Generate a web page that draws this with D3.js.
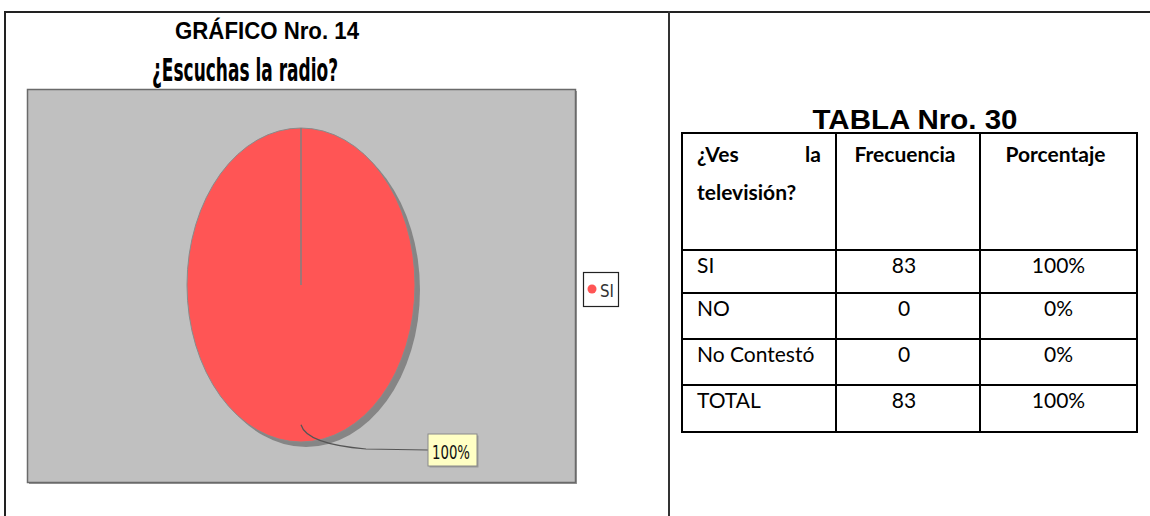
<!DOCTYPE html>
<html>
<head>
<meta charset="utf-8">
<script src="https://cdn.jsdelivr.net/npm/d3@7"></script>
<style>
  body { margin: 0; background: #fff; }
  svg { display: block; }
</style>
</head>
<body>
<svg id="canvas" width="1150" height="516"></svg>
<script>
// pie data
const pieCats = ["SI"];
const pieValues = [100];
const pieLabels = ["100%"];

// table data
const tableHead = ["¿Ves la televisión?", "Frecuencia", "Porcentaje"];
const tableCats = ["SI", "NO", "No Contestó", "TOTAL"];
const tableFreq = [83, 0, 0, 83];
const tablePct = ["100%", "0%", "0%", "100%"];

const colors = ["#ff5555"];

let svg = d3.select("#canvas");

// page frame
svg.append("line").attr("x1", 4).attr("x2", 1150).attr("y1", 12).attr("y2", 12)
    .attr("stroke", "#222").attr("stroke-width", 2);
svg.append("line").attr("x1", 5).attr("x2", 5).attr("y1", 11).attr("y2", 516)
    .attr("stroke", "#222").attr("stroke-width", 2);
svg.append("line").attr("x1", 669).attr("x2", 669).attr("y1", 11).attr("y2", 516)
    .attr("stroke", "#333").attr("stroke-width", 2);

// titles
svg.append("text").attr("x", 267).attr("y", 39)
    .attr("text-anchor", "middle")
    .attr("font-family", "Liberation Sans, Arial, sans-serif")
    .attr("font-weight", "bold").attr("font-size", 23)
    .attr("textLength", 184).attr("lengthAdjust", "spacingAndGlyphs")
    .text("GRÁFICO Nro. 14");
svg.append("text").attr("x", 245).attr("y", 81)
    .attr("text-anchor", "middle")
    .attr("font-family", "Liberation Sans Narrow, DejaVu Sans Condensed, sans-serif")
    .attr("font-weight", "bold").attr("font-size", 32)
    .attr("textLength", 186).attr("lengthAdjust", "spacingAndGlyphs")
    .text("¿Escuchas la radio?");

// chart area
svg.append("rect").attr("x", 29).attr("y", 91).attr("width", 548).attr("height", 393)
    .attr("fill", "#9a9a9a");
svg.append("rect").attr("x", 27.5).attr("y", 89.5).attr("width", 548).attr("height", 393)
    .attr("fill", "#c0c0c0").attr("stroke", "#6a6a6a").attr("stroke-width", 1.5);

// pie (ellipse: scale a unit pie)
let cx = 301, cy = 285, rx = 114, ry = 157;
let pie = d3.pie().sort(null)(pieValues);
let arc = d3.arc().innerRadius(0).outerRadius(1);

let g = svg.append("g");
g.selectAll("path.shadow")
    .data(pie)
    .enter()
    .append("path")
    .attr("class", "shadow")
    .attr("d", arc)
    .attr("transform", `translate(${cx + 5},${cy + 5}) scale(${rx},${ry})`)
    .attr("fill", "#858585");
g.selectAll("path.slice")
    .data(pie)
    .enter()
    .append("path")
    .attr("class", "slice")
    .attr("d", arc)
    .attr("transform", `translate(${cx},${cy}) scale(${rx},${ry})`)
    .attr("fill", (d, i) => colors[i])
    .attr("stroke", "#8a8a8a")
    .attr("stroke-width", 1)
    .attr("vector-effect", "non-scaling-stroke");

// slice edges
pie.forEach(d => {
    g.append("line")
        .attr("x1", cx).attr("y1", cy)
        .attr("x2", cx + rx * Math.sin(d.startAngle))
        .attr("y2", cy - ry * Math.cos(d.startAngle))
        .attr("stroke", "#808080").attr("stroke-width", 1.5);
});

// data label with leader line
let bx = 428, by = 434, bw = 49, bh = 32;
pie.forEach((d, i) => {
    let mid = (d.startAngle + d.endAngle) / 2;
    let ax = cx + 0.89 * rx * Math.sin(mid);
    let ay = cy - 0.89 * ry * Math.cos(mid);
    let ex = bx, ey = by + bh / 2;
    g.append("path")
        .attr("d", `M${ax},${ay} C${ax + 4},${ay + 14} ${ax + 30},${ey - 4} ${ax + 65},${ey - 1} L${ex},${ey}`)
        .attr("fill", "none").attr("stroke", "#555").attr("stroke-width", 1.2);
    g.append("rect").attr("x", bx + 1.5).attr("y", by + 1.5).attr("width", bw).attr("height", bh)
        .attr("fill", "#9a9a9a");
    g.append("rect").attr("x", bx).attr("y", by).attr("width", bw).attr("height", bh)
        .attr("fill", "#ffffc4").attr("stroke", "#8a8a8a").attr("stroke-width", 1);
    g.append("text").attr("x", bx + 4).attr("y", by + 25)
        .attr("font-family", "Liberation Sans Narrow, DejaVu Sans Condensed, sans-serif")
        .attr("font-size", 19).attr("fill", "#111")
        .attr("textLength", 38).attr("lengthAdjust", "spacingAndGlyphs")
        .text(pieLabels[i]);
});

// legend
let lg = svg.append("g");
lg.append("rect").attr("x", 583.5).attr("y", 272.5).attr("width", 35).attr("height", 34)
    .attr("fill", "#fff").attr("stroke", "#222").attr("stroke-width", 1.2);
pieCats.forEach((c, i) => {
    lg.append("circle").attr("cx", 592).attr("cy", 289 + i * 20).attr("r", 4.5)
        .attr("fill", colors[i]);
    lg.append("text").attr("x", 600).attr("y", 297 + i * 20)
        .attr("font-family", "Liberation Sans Narrow, DejaVu Sans Condensed, sans-serif")
        .attr("font-size", 18).attr("fill", "#333")
        .attr("textLength", 14).attr("lengthAdjust", "spacingAndGlyphs")
        .text(c);
});

// table title
svg.append("text").attr("x", 915).attr("y", 129)
    .attr("text-anchor", "middle")
    .attr("font-family", "Liberation Sans, Arial, sans-serif")
    .attr("font-weight", "bold").attr("font-size", 28)
    .attr("textLength", 205).attr("lengthAdjust", "spacingAndGlyphs")
    .text("TABLA Nro. 30");

// table
let colX = [682, 836, 980, 1137];
let rowY = [133, 250, 293, 339, 385, 432];
let tf = "Lato, Calibri, sans-serif";
let fs = 21;
let tb = svg.append("g");

colX.forEach(x => {
    tb.append("line").attr("x1", x).attr("x2", x).attr("y1", rowY[0] - 1).attr("y2", rowY[rowY.length - 1] + 1)
        .attr("stroke", "#000").attr("stroke-width", 2);
});
rowY.forEach(y => {
    tb.append("line").attr("x1", colX[0] - 1).attr("x2", colX[3] + 1).attr("y1", y).attr("y2", y)
        .attr("stroke", "#000").attr("stroke-width", 2);
});

// header (first cell justified over two lines)
let hw = tableHead[0].split(" ");
tb.append("text").attr("x", 697).attr("y", 162).attr("font-family", tf)
    .attr("font-weight", "bold").attr("font-size", fs).text(hw[0]);
tb.append("text").attr("x", 821).attr("y", 162).attr("font-family", tf)
    .attr("text-anchor", "end")
    .attr("font-weight", "bold").attr("font-size", fs).text(hw[1]);
tb.append("text").attr("x", 697).attr("y", 200).attr("font-family", tf)
    .attr("font-weight", "bold").attr("font-size", fs).text(hw[2]);
[1, 2].forEach(i => {
    tb.append("text").attr("x", (colX[i] + colX[i + 1]) / 2 - 3).attr("y", 162)
        .attr("text-anchor", "middle").attr("font-family", tf)
        .attr("font-weight", "bold").attr("font-size", fs).text(tableHead[i]);
});

// body rows
tableCats.forEach((c, i) => {
    let y = rowY[i + 1] + 23;
    tb.append("text").attr("x", 697).attr("y", y).attr("font-family", tf)
        .attr("font-size", fs).text(c);
    tb.append("text").attr("x", (colX[1] + colX[2]) / 2 - 4).attr("y", y)
        .attr("text-anchor", "middle").attr("font-family", tf)
        .attr("font-size", fs).text(tableFreq[i]);
    tb.append("text").attr("x", (colX[2] + colX[3]) / 2).attr("y", y)
        .attr("text-anchor", "middle").attr("font-family", tf)
        .attr("font-size", fs).text(tablePct[i]);
});
</script>
</body>
</html>
